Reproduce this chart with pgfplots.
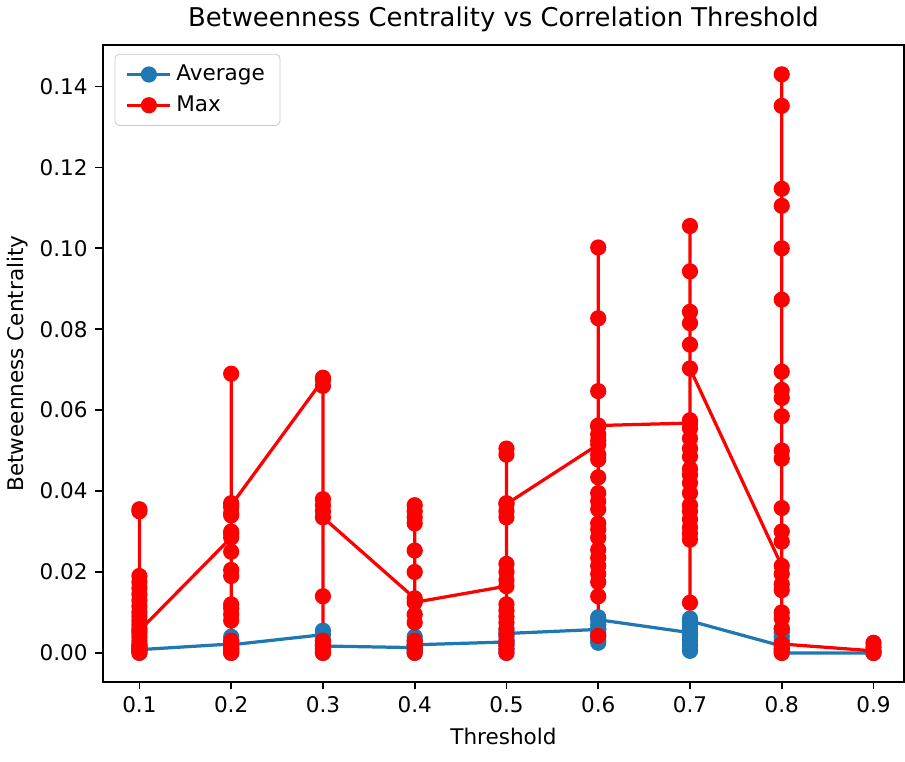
\documentclass[border=0pt]{standalone}
\usepackage{pgfplots}
\pgfplotsset{compat=1.18}
\usepackage{fontspec}
\setmainfont{DejaVu Sans}
\definecolor{mplblue}{HTML}{1F77B4}
\definecolor{mplred}{HTML}{FF0000}
\begin{document}
\begin{tikzpicture}
\begin{axis}[
  scale only axis,
  width=372pt, height=295.5pt,
  xmin=0.06, xmax=0.9334,
  ymin=-0.00715, ymax=0.1502,
  xtick={0.1,0.2,0.3,0.4,0.5,0.6,0.7,0.8,0.9},
  ytick={0,0.02,0.04,0.06,0.08,0.10,0.12,0.14},
  xticklabel style={/pgf/number format/.cd,fixed,fixed zerofill,precision=1},
  yticklabel style={/pgf/number format/.cd,fixed,fixed zerofill,precision=2},
  scaled y ticks=false,
  /pgf/number format/assume math mode=true,
  tick label style={font=\fontsize{10}{12}\selectfont},
  label style={font=\fontsize{10}{12}\selectfont},
  title style={font=\fontsize{12}{14}\selectfont, yshift=-3.5pt},
  title={Betweenness Centrality vs Correlation Threshold},
  xlabel={Threshold\rule[-4.5pt]{0pt}{0pt}},
  ylabel={Betweenness Centrality},
  ylabel style={yshift=-1.5pt},
  tick align=outside,
  major tick length=3.5pt,
  xtick pos=left, ytick pos=left,
  axis line style={line width=0.8pt},
  every tick/.style={black, line width=0.8pt},
  legend style={at={(0,1)}, anchor=north west, xshift=5.5pt, yshift=-4pt,
    draw=black!20, rounded corners=2pt, font=\fontsize{10}{12}\selectfont,
    inner xsep=5pt, inner ysep=3pt, row sep=1.5pt},
  legend cell align=left,
  legend image code/.code={\draw[mark repeat=2,mark phase=2,#1] plot coordinates {(0pt,0pt) (10pt,0pt) (20pt,0pt)};},
]
\addplot[mplblue, line width=1.5pt, mark=*, mark size=3.0pt, mark options={solid, fill=mplblue, draw=mplblue}] coordinates {
(0.1,0.0005)(0.1,0.002)(0.1,0.0015)(0.1,0.001)(0.1,0.0)(0.1,0.0008)
(0.2,0.0022)(0.2,0.004)(0.2,0.003)(0.2,0.0015)(0.2,0.001)(0.2,0.0005)(0.2,0.0)(0.2,0.0020)
(0.3,0.0045)(0.3,0.0055)(0.3,0.003)(0.3,0.002)(0.3,0.001)(0.3,0.0)(0.3,0.0017)
(0.4,0.0013)(0.4,0.004)(0.4,0.003)(0.4,0.002)(0.4,0.001)(0.4,0.0005)(0.4,0.0)(0.4,0.0020)
(0.5,0.0027)(0.5,0.0055)(0.5,0.004)(0.5,0.003)(0.5,0.002)(0.5,0.001)(0.5,0.0)(0.5,0.0048)
(0.6,0.0058)(0.6,0.0088)(0.6,0.007)(0.6,0.006)(0.6,0.005)(0.6,0.004)(0.6,0.003)(0.6,0.0025)(0.6,0.0082)
(0.7,0.0050)(0.7,0.0085)(0.7,0.007)(0.7,0.006)(0.7,0.0045)(0.7,0.004)(0.7,0.003)(0.7,0.002)(0.7,0.001)(0.7,0.0005)(0.7,0.0079)
(0.8,0.0017)(0.8,0.006)(0.8,0.005)(0.8,0.004)(0.8,0.003)(0.8,0.002)(0.8,0.001)(0.8,0.0005)(0.8,0.0)
(0.9,0.0)(0.9,0.0)
};
\addlegendentry{Average}
\addplot[mplred, line width=1.5pt, mark=*, mark size=3.0pt, mark options={solid, fill=mplred, draw=mplred}] coordinates {
(0.1,0.0355)(0.1,0.0350)(0.1,0.019)(0.1,0.0175)(0.1,0.016)(0.1,0.0145)(0.1,0.013)(0.1,0.0115)(0.1,0.010)(0.1,0.009)(0.1,0.008)(0.1,0.007)(0.1,0.006)(0.1,0.005)(0.1,0.004)(0.1,0.003)(0.1,0.002)(0.1,0.0015)(0.1,0.001)(0.1,0.0005)(0.1,0.0)(0.1,0.0055)
(0.2,0.0285)(0.2,0.069)(0.2,0.037)(0.2,0.036)(0.2,0.0345)(0.2,0.034)(0.2,0.030)(0.2,0.0295)(0.2,0.025)(0.2,0.0205)(0.2,0.019)(0.2,0.012)(0.2,0.011)(0.2,0.0095)(0.2,0.008)(0.2,0.003)(0.2,0.002)(0.2,0.001)(0.2,0.0005)(0.2,0.0)(0.2,0.0365)
(0.3,0.0675)(0.3,0.068)(0.3,0.066)(0.3,0.038)(0.3,0.0365)(0.3,0.035)(0.3,0.014)(0.3,0.003)(0.3,0.002)(0.3,0.001)(0.3,0.0005)(0.3,0.0)(0.3,0.0335)
(0.4,0.0135)(0.4,0.0365)(0.4,0.035)(0.4,0.0335)(0.4,0.032)(0.4,0.0253)(0.4,0.020)(0.4,0.0095)(0.4,0.0075)(0.4,0.003)(0.4,0.002)(0.4,0.001)(0.4,0.0)(0.4,0.0125)
(0.5,0.0165)(0.5,0.0505)(0.5,0.049)(0.5,0.037)(0.5,0.035)(0.5,0.0335)(0.5,0.022)(0.5,0.020)(0.5,0.018)(0.5,0.012)(0.5,0.0105)(0.5,0.009)(0.5,0.0075)(0.5,0.006)(0.5,0.0045)(0.5,0.003)(0.5,0.002)(0.5,0.001)(0.5,0.0)(0.5,0.0368)
(0.6,0.0515)(0.6,0.1002)(0.6,0.0827)(0.6,0.0647)(0.6,0.0560)(0.6,0.054)(0.6,0.0525)(0.6,0.049)(0.6,0.0478)(0.6,0.0434)(0.6,0.0395)(0.6,0.0375)(0.6,0.0355)(0.6,0.032)(0.6,0.0305)(0.6,0.0285)(0.6,0.0255)(0.6,0.0235)(0.6,0.0215)(0.6,0.0195)(0.6,0.0175)(0.6,0.014)(0.6,0.0042)(0.6,0.0562)
(0.7,0.0568)(0.7,0.1055)(0.7,0.0943)(0.7,0.0843)(0.7,0.0815)(0.7,0.0762)(0.7,0.0575)(0.7,0.0555)(0.7,0.0530)(0.7,0.0505)(0.7,0.0485)(0.7,0.0455)(0.7,0.0440)(0.7,0.0420)(0.7,0.0395)(0.7,0.0365)(0.7,0.0350)(0.7,0.0330)(0.7,0.0310)(0.7,0.0295)(0.7,0.0280)(0.7,0.0124)(0.7,0.0703)
(0.8,0.0215)(0.8,0.143)(0.8,0.1352)(0.8,0.1147)(0.8,0.1105)(0.8,0.1000)(0.8,0.0873)(0.8,0.0695)(0.8,0.0650)(0.8,0.0630)(0.8,0.0585)(0.8,0.0500)(0.8,0.0480)(0.8,0.0358)(0.8,0.0300)(0.8,0.0275)(0.8,0.0195)(0.8,0.0170)(0.8,0.0155)(0.8,0.0100)(0.8,0.0085)(0.8,0.0060)(0.8,0.0010)(0.8,0.0)(0.8,0.0022)
(0.9,0.0005)(0.9,0.0025)(0.9,0.0015)(0.9,0.0)
};
\addlegendentry{Max}
\end{axis}
\end{tikzpicture}
\end{document}
